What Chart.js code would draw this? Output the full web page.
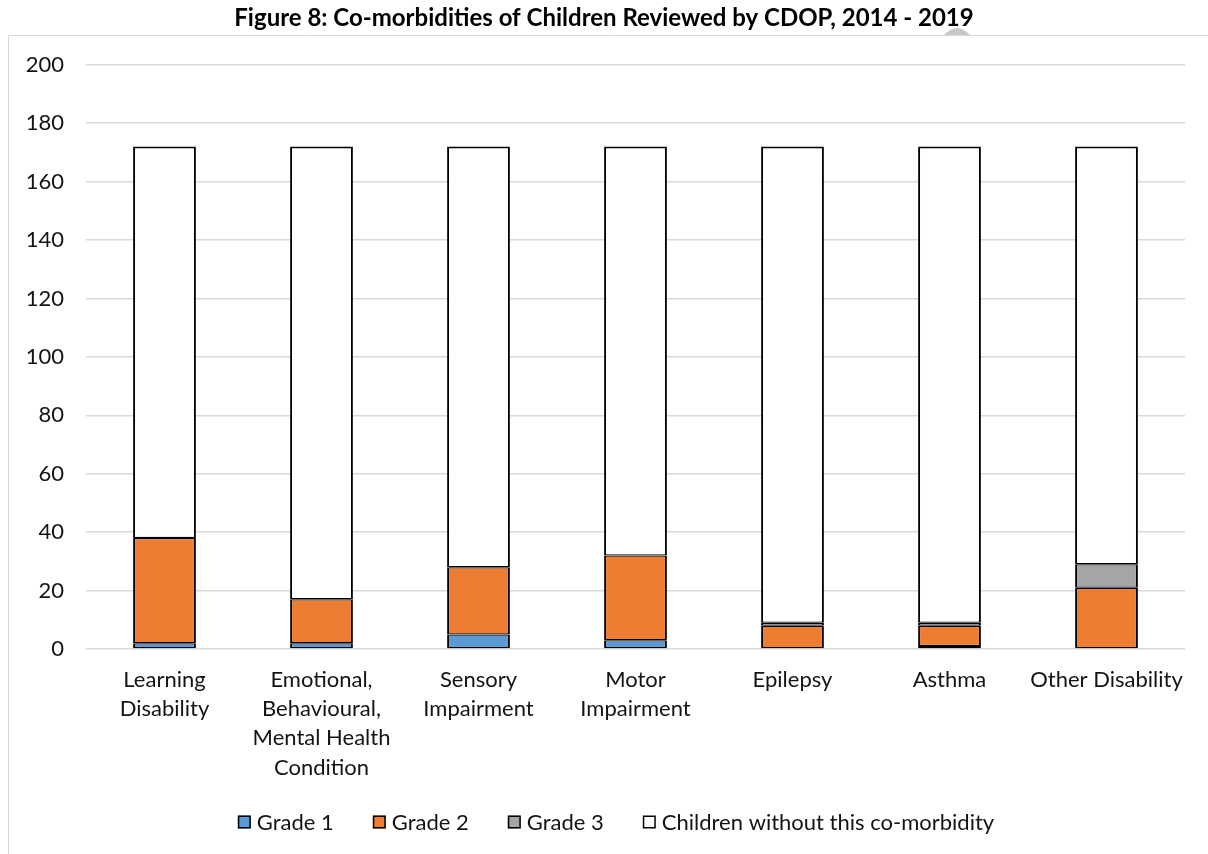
<!DOCTYPE html>
<html>
<head>
<meta charset="utf-8">
<script src="https://cdn.jsdelivr.net/npm/chart.js@4"></script>
<style>
  html, body { margin: 0; padding: 0; background: #fff; }
  #wrap { width: 1208px; height: 854px; position: relative; }
</style>
</head>
<body>
<div id="wrap"><canvas id="c" width="1208" height="854"></canvas></div>
<script>
const categories = [
  ['Learning', 'Disability'],
  ['Emotional,', 'Behavioural,', 'Mental Health', 'Condition'],
  ['Sensory', 'Impairment'],
  ['Motor', 'Impairment'],
  'Epilepsy',
  'Asthma',
  'Other Disability'
];
const grade1 = [2, 2, 5, 3, 0, 1, 0];
const grade2 = [36, 15, 23, 29, 8, 7, 21];
const grade3 = [0, 0, 0, 0, 1, 1, 8];
const withoutCondition = [134, 155, 144, 140, 163, 163, 143];
const yTicks = [0, 20, 40, 60, 80, 100, 120, 140, 160, 180, 200];

const FONT = 'Lato, "Open Sans", sans-serif';
const TEXT = '#141414';

// light frame around the chart body, plus the small grey tab behind the title
const framePlugin = {
  id: 'frame',
  beforeDraw(chart) {
    const ctx = chart.ctx;
    ctx.save();
    ctx.fillStyle = '#c8c8c8';
    ctx.beginPath();
    ctx.moveTo(944, 35);
    ctx.quadraticCurveTo(951, 28, 957, 28);
    ctx.quadraticCurveTo(963, 28, 970, 35);
    ctx.closePath();
    ctx.fill();
    ctx.strokeStyle = '#d9d9d9';
    ctx.lineWidth = 1;
    ctx.beginPath();
    ctx.moveTo(8.5, 854);
    ctx.lineTo(8.5, 35.5);
    ctx.lineTo(1208, 35.5);
    ctx.stroke();
    ctx.restore();
  }
};

// one-row legend under the category labels: square swatch, short gap, label
const legendRow = {
  id: 'legendRow',
  afterDraw(chart) {
    const ctx = chart.ctx;
    const box = 13, gapText = 6, gapItem = 39, centerX = 616, centerY = 822;
    ctx.save();
    ctx.font = '22px ' + FONT;
    ctx.textBaseline = 'middle';
    const items = chart.data.datasets.map(d => ({
      label: d.label, fill: d.backgroundColor, w: ctx.measureText(d.label).width
    }));
    const total = items.reduce((s, it) => s + box + gapText + it.w, 0) + gapItem * (items.length - 1);
    let x = centerX - total / 2;
    items.forEach(it => {
      ctx.fillStyle = it.fill;
      ctx.fillRect(x, centerY - box / 2, box, box);
      ctx.strokeStyle = '#000';
      ctx.lineWidth = 1.5;
      ctx.strokeRect(x + 0.75, centerY - box / 2 + 0.75, box - 1.5, box - 1.5);
      ctx.fillStyle = TEXT;
      ctx.fillText(it.label, x + box + gapText, centerY + 1);
      x += box + gapText + it.w + gapItem;
    });
    ctx.restore();
  }
};

function ds(label, data, color, topEdge) {
  return {
    label,
    data,
    backgroundColor: color,
    borderColor: '#000',
    borderWidth: { left: 2, right: 2, top: topEdge, bottom: 1.25 },
    borderSkipped: false,
    barPercentage: 0.4,
    categoryPercentage: 1.0
  };
}

new Chart(document.getElementById('c'), {
  type: 'bar',
  data: {
    labels: categories,
    datasets: [
      ds('Grade 1', grade1, '#5b9bd5', 1.25),
      ds('Grade 2', grade2, '#ed7d31', 1.25),
      ds('Grade 3', grade3, '#a5a5a5', 1.25),
      ds('Children without this co-morbidity', withoutCondition, '#ffffff', 2)
    ]
  },
  options: {
    responsive: false,
    animation: false,
    layout: { padding: { left: 0, right: 0, top: 0, bottom: 0 } },
    plugins: {
      title: {
        display: true,
        text: 'Figure 8: Co-morbidities of Children Reviewed by CDOP, 2014 - 2019',
        color: '#000',
        font: { family: FONT, size: 24, weight: 'bold', lineHeight: 1.2 },
        padding: { top: 4, bottom: 32 }
      },
      legend: { display: false },
      tooltip: { enabled: false }
    },
    scales: {
      x: {
        stacked: true,
        grid: { display: false, drawTicks: false },
        border: { display: false },
        afterFit(axis) { axis.height = 205; },
        ticks: {
          color: TEXT,
          font: { family: FONT, size: 22, lineHeight: 1.33 },
          maxRotation: 0,
          autoSkip: false,
          padding: 16
        }
      },
      y: {
        stacked: true,
        min: 0,
        max: 200,
        afterBuildTicks(axis) { axis.ticks = yTicks.map(v => ({ value: v })); },
        afterFit(axis) { axis.width = 86; },
        grid: { color: '#d9d9d9', lineWidth: 1.5, drawTicks: false },
        border: { display: false },
        ticks: {
          color: TEXT,
          font: { family: FONT, size: 22 },
          padding: 22
        }
      },
      // empty margin axis on the right so the plot ends short of the frame edge
      yRight: {
        position: 'right',
        grid: { display: false },
        border: { display: false },
        ticks: { display: false },
        afterFit(axis) { axis.width = 23; }
      }
    }
  },
  plugins: [framePlugin, legendRow]
});
</script>
</body>
</html>
